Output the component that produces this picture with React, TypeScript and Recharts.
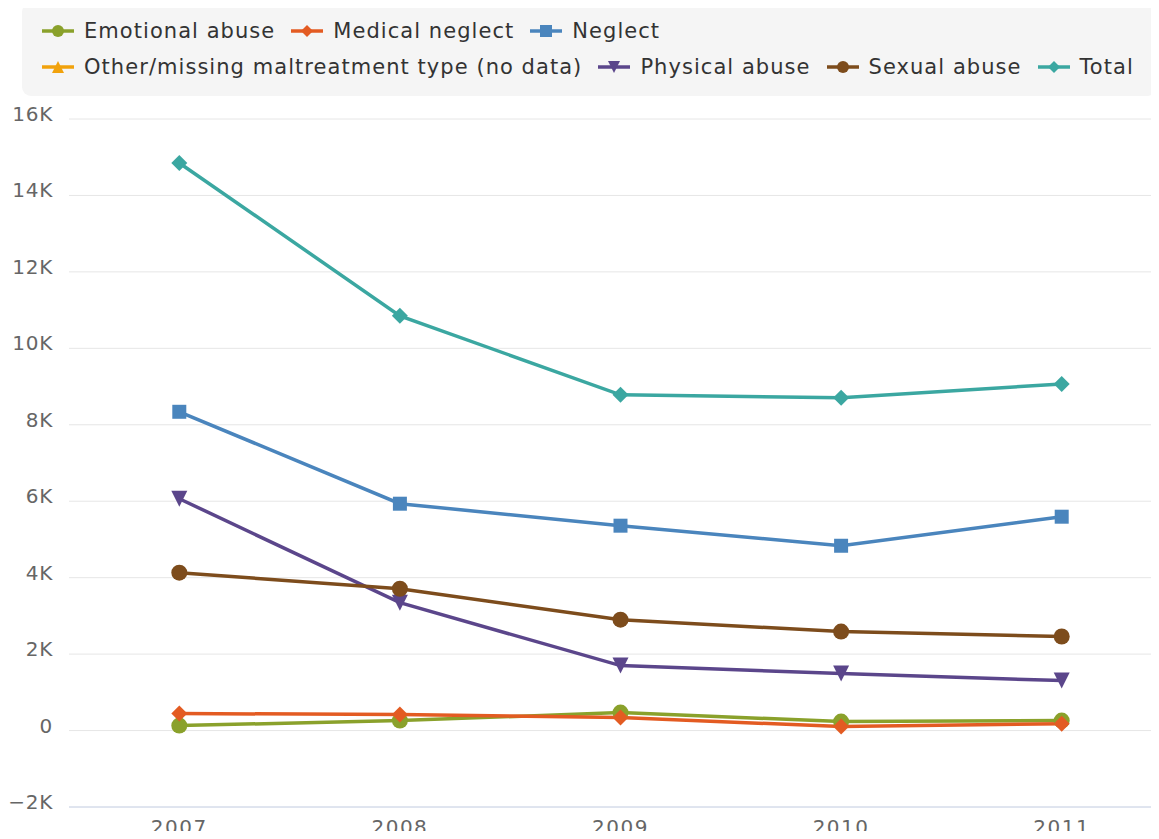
// Maltreatment victims by type, 2007–2011 — multi-series line chart with a
// boxed legend on top.

import { LineChart, Line, XAxis, YAxis, CartesianGrid } from "recharts";

const YEARS = [2007, 2008, 2009, 2010, 2011];
const EMOTIONAL = [130, 260, 470, 235, 260];
const MEDICAL = [445, 420, 340, 105, 180];
const NEGLECT = [8340, 5935, 5360, 4835, 5595];
const OTHER: (number | null)[] = [null, null, null, null, null];
const PHYSICAL = [6065, 3345, 1700, 1490, 1307];
const SEXUAL = [4130, 3710, 2900, 2590, 2460];
const TOTAL = [14850, 10850, 8785, 8705, 9070];
const Y_TICKS = [-2000, 0, 2000, 4000, 6000, 8000, 10000, 12000, 14000, 16000];

type Shape = "circle" | "diamond" | "square" | "triangle" | "triangle-down";

interface SeriesDef {
  key: string;
  name: string;
  color: string;
  shape: Shape;
  values: (number | null)[];
}

const SERIES: SeriesDef[] = [
  { key: "emotional", name: "Emotional abuse", color: "#8aa12b", shape: "circle", values: EMOTIONAL },
  { key: "medical", name: "Medical neglect", color: "#e35b22", shape: "diamond", values: MEDICAL },
  { key: "neglect", name: "Neglect", color: "#4a85bd", shape: "square", values: NEGLECT },
  { key: "other", name: "Other/missing maltreatment type (no data)", color: "#f1a20c", shape: "triangle", values: OTHER },
  { key: "physical", name: "Physical abuse", color: "#5b468b", shape: "triangle-down", values: PHYSICAL },
  { key: "sexual", name: "Sexual abuse", color: "#7d4c1c", shape: "circle", values: SEXUAL },
  { key: "total", name: "Total", color: "#3ba7a1", shape: "diamond", values: TOTAL },
];

const data = YEARS.map((year, i) => {
  const row: Record<string, number | null> = { year };
  for (const s of SERIES) row[s.key] = s.values[i] ?? null;
  return row;
});

const FONT = '"DejaVu Sans", Verdana, sans-serif';

function markerPath(shape: Shape, cx: number, cy: number, r: number): string {
  switch (shape) {
    case "diamond":
      return `M${cx},${cy - r}L${cx + r},${cy}L${cx},${cy + r}L${cx - r},${cy}Z`;
    case "square":
      return `M${cx - r},${cy - r}L${cx + r},${cy - r}L${cx + r},${cy + r}L${cx - r},${cy + r}Z`;
    case "triangle":
      return `M${cx},${cy - r}L${cx + r},${cy + r}L${cx - r},${cy + r}Z`;
    case "triangle-down":
      return `M${cx - r},${cy - r}L${cx + r},${cy - r}L${cx},${cy + r}Z`;
    default:
      return `M${cx - r},${cy}a${r},${r} 0 1,0 ${2 * r},0a${r},${r} 0 1,0 ${-2 * r},0`;
  }
}

function Marker({ cx, cy, shape, color, r }: { cx: number; cy: number; shape: Shape; color: string; r: number }) {
  if (cx == null || cy == null || !Number.isFinite(cx) || !Number.isFinite(cy)) return null;
  return <path d={markerPath(shape, cx, cy, r)} fill={color} />;
}

function YTick({ x, y, payload }: any) {
  const v = Number(payload.value);
  const label = v === 0 ? "0" : `${v / 1000}K`.replace("-", "−");
  return (
    <text x={x} y={y} dy={2} textAnchor="end" fill="#666" fontSize={20} letterSpacing={0.7} fontFamily={FONT}>
      {label}
    </text>
  );
}

// tick y arrives as axis line + tickSize + tickMargin (6 + 2)
function XTick({ x, y, payload }: any) {
  return (
    <text x={x} y={y} dy={19} textAnchor="middle" fill="#666" fontSize={20} letterSpacing={1.5} fontFamily={FONT}>
      {payload.value}
    </text>
  );
}

function LegendBox() {
  return (
    <div
      style={{
        position: "absolute",
        left: 22,
        top: 3,
        width: 1134,
        height: 93,
        boxSizing: "border-box",
        background: "#f5f5f5",
        borderRadius: 9,
        padding: "10px 0 0 20px",
        display: "flex",
        flexWrap: "wrap",
        alignContent: "flex-start",
        fontFamily: FONT,
        fontSize: 21,
        letterSpacing: 1.05,
        color: "#333",
      }}
    >
      {SERIES.map((s) => (
        <div key={s.key} style={{ display: "flex", alignItems: "center", height: 36, marginRight: 16 }}>
          <svg width={32} height={16} style={{ marginRight: 10 }}>
            <line x1={0} y1={8} x2={32} y2={8} stroke={s.color} strokeWidth={3.5} />
            <path d={markerPath(s.shape, 16, 8, 6)} fill={s.color} />
          </svg>
          <span style={{ whiteSpace: "nowrap" }}>{s.name}</span>
        </div>
      ))}
    </div>
  );
}

export default function App() {
  return (
    <div style={{ position: "relative", margin: -8, width: 1159, height: 839, overflow: "hidden", background: "#fff" }}>
      <LegendBox />
      <LineChart
        width={1172}
        height={839}
        data={data}
        margin={{ top: 119, right: 0, bottom: 0, left: 0 }}
      >
        <CartesianGrid horizontal vertical={false} stroke="#e6e6e6" strokeWidth={1} />
        <XAxis
          dataKey="year"
          type="number"
          domain={[2006.5, 2011.5]}
          ticks={YEARS}
          tick={<XTick />}
          tickLine={false}
          axisLine={{ stroke: "#ccd6eb", strokeWidth: 1 }}
          height={32}
        />
        <YAxis
          domain={[-2000, 16000]}
          ticks={Y_TICKS}
          tick={<YTick />}
          width={69}
          tickSize={0}
          tickMargin={16}
          axisLine={false}
          tickLine={false}
          interval={0}
        />
        {SERIES.map((s) => (
          <Line
            key={s.key}
            dataKey={s.key}
            name={s.name}
            stroke={s.color}
            strokeWidth={3.5}
            isAnimationActive={false}
            connectNulls={false}
            activeDot={false}
            dot={(p: any) => (
              <Marker key={`${s.key}-${p.index}`} cx={p.cx} cy={p.cy} shape={s.shape} color={s.color} r={s.shape === "square" ? 7 : 8} />
            )}
          />
        ))}
      </LineChart>
    </div>
  );
}
